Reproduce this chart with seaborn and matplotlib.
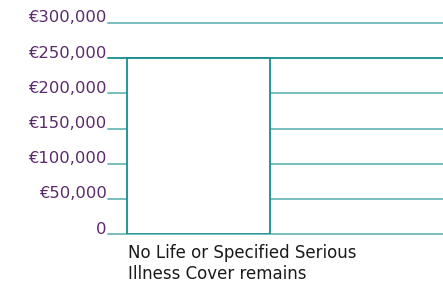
import matplotlib
matplotlib.use("Agg")
import matplotlib.pyplot as plt
import matplotlib.transforms as mtransforms
import seaborn as sns
import pandas as pd

categories = ["No Life or Specified Serious\nIllness Cover remains"]
values = [250000]
yticks = [0, 50000, 100000, 150000, 200000, 250000, 300000]
ytick_labels = ["0", "€50,000", "€100,000", "€150,000", "€200,000", "€250,000", "€300,000"]

sns.set_theme(style="white")
plt.rcParams["font.family"] = ["DejaVu Sans"]

purple = "#5a2a6a"
grid_teal = "#6cb9b9"
bar_teal = "#1a8c8c"

fig = plt.figure(figsize=(4.43, 2.85), dpi=100)
ax = fig.add_axes([108/443, 1-234/285, 1-108/443, (234-23)/285])

df = pd.DataFrame({"cat": categories, "val": values})
sns.barplot(data=df, x="cat", y="val", ax=ax, color="white", width=0.8,
            edgecolor=bar_teal, linewidth=1.3, zorder=3)

ax.set_ylim(0, 300000)
ax.set_xlim(-0.506, 1.368)
ax.set_yticks(yticks)
ax.set_yticklabels(ytick_labels, color=purple, fontsize=11.8)
ax.tick_params(axis="y", length=0, pad=1)
offset = mtransforms.ScaledTranslation(0, 0.5/100, fig.dpi_scale_trans)
for lab in ax.get_yticklabels():
    lab.set_va("baseline")
    lab.set_transform(lab.get_transform() + offset)
ax.yaxis.grid(True, color=grid_teal, linewidth=1.3, zorder=0)
for val, gl in zip(yticks, ax.get_ygridlines()):
    gl.set_clip_on(False)
    if val == values[0]:
        gl.set_color(bar_teal)
ax.set_axisbelow(True)
for s in ax.spines.values():
    s.set_visible(False)

ax.set_xticks([-0.395])
ax.set_xticklabels(categories, ha="left", fontsize=12, color="#1a1a1a", linespacing=1.2)
ax.tick_params(axis="x", length=0, pad=7)
ax.set_xlabel("")
ax.set_ylabel("")

fig.savefig("out.png", dpi=100)
